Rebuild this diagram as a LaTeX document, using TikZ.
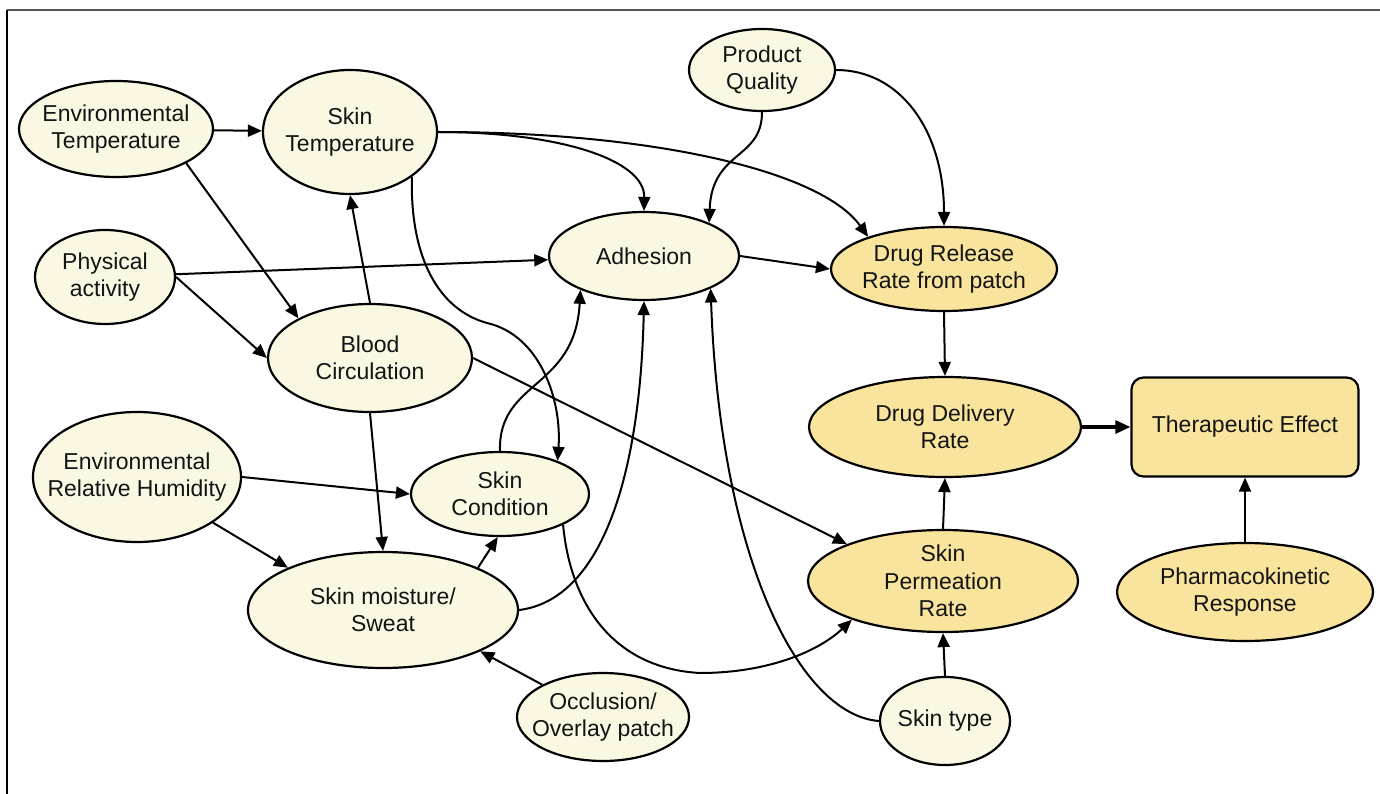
\documentclass[tikz,border=0pt]{standalone}
\usepackage{fontspec}
\usetikzlibrary{shapes.geometric,arrows.meta}
\newfontfamily\labfont{Liberation Sans}
\definecolor{cream}{RGB}{250,248,226}
\definecolor{gold}{RGB}{248,228,156}
\definecolor{ink}{RGB}{20,20,20}
\definecolor{framegray}{RGB}{85,85,85}
\tikzset{
  nd/.style={ellipse, draw=black, line width=2.2pt, inner sep=0pt},
  lt/.style={nd, fill=cream},
  dk/.style={nd, fill=gold},
  tx/.style={align=center, text=ink, font=\labfont\fontsize{23}{27.5}\selectfont},
  arr/.style={-{Triangle[length=14pt,width=12pt]}, line width=2pt},
  thick arr/.style={-{Triangle[length=15pt,width=13pt]}, line width=3.2pt},
}
\begin{document}
\begin{tikzpicture}[x=1pt,y=-1pt]
\useasboundingbox (0,0) rectangle (1380,794);
\fill[white] (0,0) rectangle (1380,794);

% frame
\draw[line width=2pt, framegray] (7,10) -- (1380,10);
\draw[line width=2pt, black] (7,10) -- (7,794);

% factors
\node[lt, minimum width=194, minimum height=96, label={[tx]center:Environmental\\Temperature}] (envT) at (116,129) {};
\node[lt, minimum width=174, minimum height=124, label={[tx]center:Skin\\Temperature}] (skinT) at (350,132) {};
\node[lt, minimum width=140, minimum height=94, label={[tx]center:Physical\\activity}] (phys) at (105,277) {};
\node[lt, minimum width=204, minimum height=108, label={[tx]center:Blood\\Circulation}] (blood) at (370,358) {};
\node[lt, minimum width=146, minimum height=82, label={[tx]center:Product\\Quality}] (pq) at (762,70) {};
\node[lt, minimum width=190, minimum height=88, label={[tx]center:Adhesion}] (adh) at (644,256) {};
\node[lt, minimum width=208, minimum height=130, label={[tx]center:Environmental\\Relative Humidity}] (erh) at (137,477) {};
\node[lt, minimum width=178, minimum height=84, label={[tx]center:Skin\\Condition}] (cond) at (500,494) {};
\node[lt, minimum width=270, minimum height=116, label={[tx]center:Skin moisture/\\Sweat}] (moist) at (383,610) {};
\node[lt, minimum width=172, minimum height=88, label={[tx]center:Occlusion/\\Overlay patch}] (occ) at (603,717) {};
\node[lt, minimum width=130, minimum height=88, label={[tx]center:Skin type}] (stype) at (945,721) {};

% drug related nodes
\node[dk, minimum width=226, minimum height=84, label={[tx]center:Drug Release\\Rate from patch}] (rel) at (944,269) {};
\node[dk, minimum width=272, minimum height=100, label={[tx]center:Drug Delivery\\Rate}] (del) at (945,427) {};
\node[dk, minimum width=270, minimum height=102, label={[tx]center:Skin\\Permeation\\Rate}] (perm) at (943,581) {};
\node[dk, minimum width=256, minimum height=98, label={[tx]center:Pharmacokinetic\\Response}] (pk) at (1245,592) {};
\node[rectangle, rounded corners=12pt, draw=black, line width=2.2pt, fill=gold,
      minimum width=227, minimum height=99, tx] (ther) at (1245,427) {Therapeutic Effect};

% influences
\draw[arr] (envT) -- (skinT);
\draw[arr] (envT.-26) -- (blood.151);
\draw[arr] (skinT.east) .. controls (560,132) and (645,160) .. (adh.north);
\draw[arr] (skinT.east) .. controls (650,132) and (820,170) .. (rel.157);
\draw[arr] (skinT.-36) .. controls (410,260) and (440,310) .. (487,323)
           .. controls (540,335) and (562,400) .. (cond.30);
\draw[arr] (pq.south) .. controls (762,160) and (712,150) .. (adh.27);
\draw[arr] (pq.east) .. controls (900,70) and (944,130) .. (rel.north);
\draw[arr] (phys) -- (adh);
\draw[arr] (phys.east) -- (blood.west);
\draw[arr] (blood.north) -- (skinT.south);
\draw[arr] (blood.south) -- (moist.north);
\draw[arr] (blood.east) -- (perm.159.4);
\draw[arr] (adh.east) -- (rel.west);
\draw[arr] (rel.south) -- (del.north);
\draw[thick arr] (del.east) -- (ther.west);
\draw[arr] (perm.north) -- (del.south);
\draw[arr] (pk.north) -- (ther.south);
\draw[arr] (stype.north) -- (perm.south);
\draw[arr] (stype.west) .. controls (800,715) and (720,560) .. (adh.-26);
\draw[arr] (erh.east) -- (cond.west);
\draw[arr] (erh.-31.5) -- (moist.156.7);
\draw[arr] (moist.24) -- (cond.-93);
\draw[arr] (moist.east) .. controls (600,600) and (640,480) .. (adh.south);
\draw[arr] (cond.north) .. controls (498,380) and (575,390) .. (adh.-152);
\draw[arr] (cond.-26) .. controls (570,600) and (610,668) .. (700,673)
           .. controls (770,673) and (820,650) .. (perm.-157);
\draw[arr] (occ.152) -- (moist.-23);
\end{tikzpicture}
\end{document}
